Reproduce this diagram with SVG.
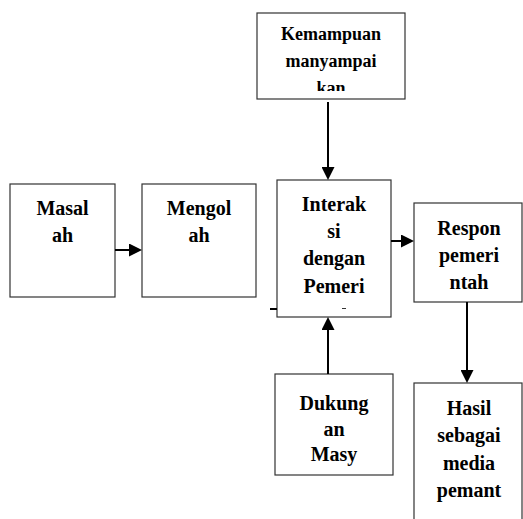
<svg xmlns="http://www.w3.org/2000/svg" width="523" height="519" viewBox="0 0 523 519">
<style>
.box{fill:#fff;stroke:#333;stroke-width:1.2}
.t{font-family:"Liberation Serif","Times New Roman",serif;font-weight:bold;font-size:20px;fill:#000;text-anchor:middle}
.ts{font-size:18px}
.c{stroke:#000;stroke-width:2;fill:none}
</style>
<defs>
<marker id="ah" markerUnits="userSpaceOnUse" markerWidth="13" markerHeight="13" refX="0" refY="6.5" orient="auto" viewBox="0 0 13 13">
<path d="M0,0 L13,6.5 L0,13 z" fill="#000"/>
</marker>
<clipPath id="kc"><rect x="258" y="14" width="146" height="77"/></clipPath>
</defs>
<rect width="523" height="519" fill="#fff"/>
<g id="kemampuan">
<rect class="box" x="257" y="13" width="148" height="86"/>
<g clip-path="url(#kc)">
<text class="t ts" x="331" y="40">Kemampuan</text>
<text class="t ts" x="331" y="67">manyampai</text>
<text class="t ts" x="331" y="94">kan</text>
</g>
</g>
<g id="masalah">
<rect class="box" x="10" y="184" width="105" height="113"/>
<text class="t" x="62.5" y="215">Masal</text>
<text class="t" x="62.5" y="242">ah</text>
</g>
<g id="mengolah">
<rect class="box" x="142" y="184" width="114" height="113"/>
<text class="t" x="199" y="215">Mengol</text>
<text class="t" x="199" y="242">ah</text>
</g>
<g id="interaksi">
<rect class="box" x="277" y="180" width="114" height="137"/>
<text class="t" x="334" y="211">Interak</text>
<text class="t" x="334" y="238">si</text>
<text class="t" x="334" y="265">dengan</text>
<text class="t" x="334" y="293">Pemeri</text>
<line x1="342" y1="308.5" x2="346" y2="308.5" stroke="#333" stroke-width="1"/>
</g>
<g id="respon">
<rect class="box" x="414" y="203" width="108" height="99"/>
<text class="t" x="469" y="235">Respon</text>
<text class="t" x="469" y="262">pemeri</text>
<text class="t" x="469" y="289">ntah</text>
</g>
<g id="dukungan">
<rect class="box" x="275" y="374" width="118" height="101"/>
<text class="t" x="334" y="410">Dukung</text>
<text class="t" x="334" y="436">an</text>
<text class="t" x="334" y="461">Masy</text>
</g>
<g id="hasil">
<rect class="box" x="414" y="383" width="108" height="150"/>
<text class="t" x="469" y="415">Hasil</text>
<text class="t" x="469" y="442">sebagai</text>
<text class="t" x="469" y="470">media</text>
<text class="t" x="469" y="497">pemant</text>
</g>
<g id="connectors">
<line class="c" x1="115" y1="250" x2="129" y2="250" marker-end="url(#ah)"/>
<line class="c" x1="391" y1="241" x2="401" y2="241" marker-end="url(#ah)"/>
<line class="c" x1="328" y1="102" x2="328" y2="167" marker-end="url(#ah)"/>
<line class="c" x1="328" y1="374" x2="328" y2="330" marker-end="url(#ah)"/>
<line class="c" x1="467" y1="302" x2="467" y2="370" marker-end="url(#ah)"/>
<line class="c" x1="270" y1="309" x2="277" y2="309"/>
</g>
</svg>
